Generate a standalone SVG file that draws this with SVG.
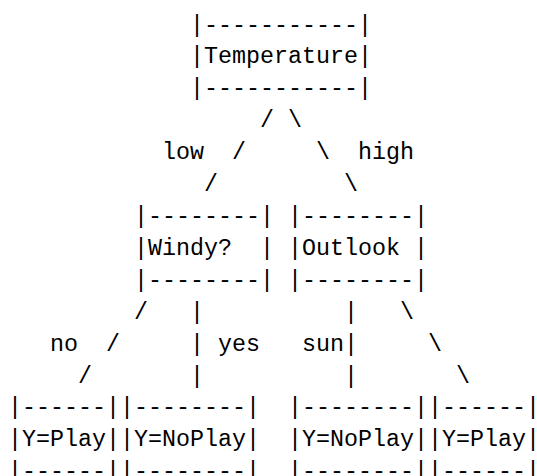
<svg xmlns="http://www.w3.org/2000/svg" width="537" height="476" viewBox="0 0 537 476">
<style>
text{font-family:"Liberation Mono","DejaVu Sans Mono",monospace;font-size:23.333px;fill:#000;white-space:pre}
</style>
<rect width="537" height="476" fill="#fff"/>
<g id="node-temperature">
<text x="190" y="31.5" xml:space="preserve">|-----------|</text>
<text x="190" y="63.4" xml:space="preserve">|Temperature|</text>
<text x="190" y="95.4" xml:space="preserve">|-----------|</text>
</g>
<g id="node-windy">
<text x="134" y="223.1" xml:space="preserve">|--------|</text>
<text x="134" y="255" xml:space="preserve">|Windy?  |</text>
<text x="134" y="286.9" xml:space="preserve">|--------|</text>
</g>
<g id="node-outlook">
<text x="288" y="223.1" xml:space="preserve">|--------|</text>
<text x="288" y="255" xml:space="preserve">|Outlook |</text>
<text x="288" y="286.9" xml:space="preserve">|--------|</text>
</g>
<g id="leaf-play-1">
<text x="8" y="414.4" xml:space="preserve">|------|</text>
<text x="8" y="446.4" xml:space="preserve">|Y=Play|</text>
<text x="8" y="478.3" xml:space="preserve">|------|</text>
</g>
<g id="leaf-noplay-1">
<text x="120" y="414.4" xml:space="preserve">|--------|</text>
<text x="120" y="446.4" xml:space="preserve">|Y=NoPlay|</text>
<text x="120" y="478.3" xml:space="preserve">|--------|</text>
</g>
<g id="leaf-noplay-2">
<text x="288" y="414.4" xml:space="preserve">|--------|</text>
<text x="288" y="446.4" xml:space="preserve">|Y=NoPlay|</text>
<text x="288" y="478.3" xml:space="preserve">|--------|</text>
</g>
<g id="leaf-play-2">
<text x="428" y="414.4" xml:space="preserve">|------|</text>
<text x="428" y="446.4" xml:space="preserve">|Y=Play|</text>
<text x="428" y="478.3" xml:space="preserve">|------|</text>
</g>
<g id="connectors">
<text x="260" y="127.3">/</text>
<text x="288" y="127.3">\</text>
<text x="162" y="159.2">low</text>
<text x="232" y="159.2">/</text>
<text x="316" y="159.2">\</text>
<text x="358" y="159.2">high</text>
<text x="204" y="191.2">/</text>
<text x="344" y="191.2">\</text>
<text x="134" y="318.9">/</text>
<text x="190" y="318.9">|</text>
<text x="344" y="318.9">|</text>
<text x="400" y="318.9">\</text>
<text x="50" y="350.8">no</text>
<text x="106" y="350.8">/</text>
<text x="190" y="350.8">|</text>
<text x="218" y="350.8">yes</text>
<text x="302" y="350.8">sun</text>
<text x="344" y="350.8">|</text>
<text x="428" y="350.8">\</text>
<text x="78" y="382.7">/</text>
<text x="190" y="382.7">|</text>
<text x="344" y="382.7">|</text>
<text x="456" y="382.7">\</text>
</g>
</svg>
